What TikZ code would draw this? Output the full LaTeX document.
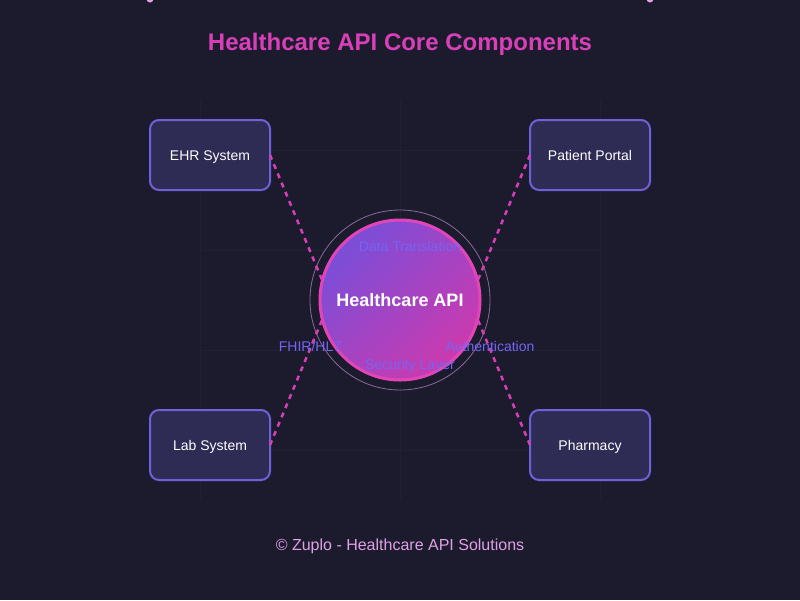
\documentclass[tikz,border=0pt]{standalone}
\usepackage{fontspec}
\setmainfont{Liberation Sans}
\usepackage{tikz}
\usetikzlibrary{arrows,shapes,positioning}
\definecolor{bgdark}{HTML}{1C1B2E}
\definecolor{gridline}{HTML}{201F33}
\definecolor{boxfill}{HTML}{2E2B55}
\definecolor{boxline}{HTML}{7060D8}
\definecolor{titlepink}{HTML}{D940B8}
\definecolor{linkpink}{HTML}{D63FB8}
\definecolor{hubline}{HTML}{E245B8}
\definecolor{hubleft}{HTML}{7A4ED8}
\definecolor{hubright}{HTML}{CC3AAE}
\definecolor{ringline}{HTML}{8A6A9A}
\definecolor{featuretext}{HTML}{7366F2}
\definecolor{footpink}{HTML}{E0A0E4}
\tikzset{
  every picture/.style = {
    x = 1pt,
    y = -1pt,
  }
  ,
  % outer systems
  system/.style = {
    rectangle,
    rounded corners = 9pt,
    draw = boxline,
    fill = boxfill,
    line width = 2pt,
    text = white,
    font = \fontsize{14}{16}\selectfont,
    text height = 10pt,
    text depth = 0pt,
    minimum width = 120pt,
    minimum height = 70pt,
    outer sep = 0pt
  }
  ,
  hub/.style = {
    circle,
    draw = hubline,
    line width = 3pt,
    left color = hubleft,
    right color = hubright,
    shading angle = 45,
    text = white,
    font = \fontsize{18}{20}\selectfont\bfseries,
    minimum size = 160pt,
    inner sep = 0pt,
    outer sep = 0pt
  }
  , % labels of features
  label-feature/.style = {
    text = featuretext,
    font = \fontsize{14}{16}\selectfont
  }
  , % connectors
  link/.style = {
    draw = linkpink,
    line width = 2.5pt,
    dash pattern = on 5pt off 5pt
  }
}
\begin{document}
\begin{tikzpicture}
\fill[bgdark] (0,0) rectangle (800,600);
\useasboundingbox (0,0) rectangle (800,600);
\foreach \gx in {200,400,600}
  \draw[gridline, line width = 0.8pt] (\gx,100) -- (\gx,500);
\foreach \gy in {150,250,350,450}
  \draw[gridline, line width = 0.8pt] (200,\gy) -- (600,\gy);
\fill[footpink] (150,-1) circle (3.5pt);
\fill[footpink] (650,-1) circle (3.5pt);

\node[text = titlepink, font = \fontsize{24}{28}\selectfont\bfseries] (title) at (400,44) {Healthcare API Core Components};

\draw[ringline, line width = 0.8pt] (400,300) circle (90pt);
\node[hub] (hub) at (400,300) {Healthcare API};

\node[system] (ehr) at (210,155) {EHR System};
\node[system] (portal) at (590,155) {Patient Portal};
\node[system] (lab) at (210,445) {Lab System};
\node[system] (pharmacy) at (590,445) {Pharmacy};

\path (ehr.east) edge[link] (hub.166)
      (portal.west) edge[link] (hub.14)
      (lab.east) edge[link] (hub.194)
      (pharmacy.west) edge[link] (hub.-14);

\node[label-feature] (translation) at (410,246) {Data Translation};
\node[label-feature] (fhir) at (310,346) {FHIR/HL7};
\node[label-feature] (auth) at (490,346) {Authentication};
\node[label-feature] (security) at (410,366) {Security Layer};

\node[text = footpink, font = \fontsize{16}{18}\selectfont] (footer) at (400,546) {© Zuplo - Healthcare API Solutions};
\end{tikzpicture}
\end{document}
